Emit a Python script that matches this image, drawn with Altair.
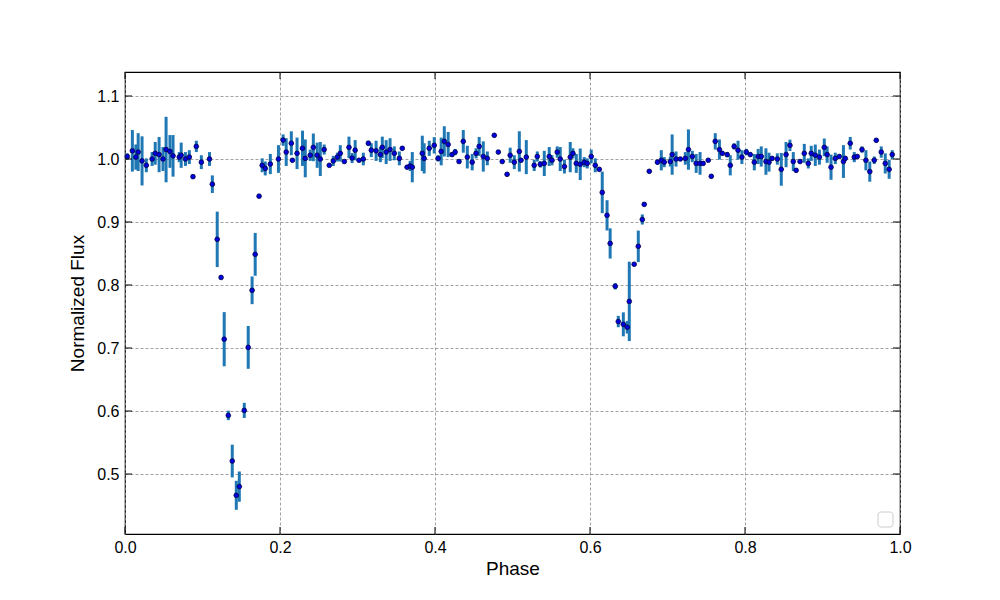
import altair as alt
import pandas as pd

phase = [0.003, 0.0095, 0.014, 0.017, 0.022, 0.0275, 0.035, 0.039, 0.044, 0.049,
         0.053, 0.058, 0.062, 0.070, 0.0725, 0.078, 0.083, 0.0877, 0.092, 0.0985,
         0.109, 0.1127, 0.119, 0.124, 0.128, 0.1333, 0.1384, 0.1436, 0.1475, 0.1539,
         0.159, 0.164, 0.168, 0.173, 0.177, 0.181, 0.1875, 0.198, 0.204, 0.208,
         0.2146, 0.216, 0.222, 0.229, 0.2326, 0.239, 0.243, 0.248, 0.252, 0.257,
         0.2636, 0.2688, 0.274, 0.2778, 0.283, 0.289, 0.293, 0.297, 0.302, 0.3075,
         0.314, 0.3178, 0.324, 0.3295, 0.332, 0.337, 0.342, 0.3475, 0.354, 0.3578,
         0.364, 0.368, 0.3707, 0.3836, 0.386, 0.3926, 0.399, 0.404, 0.408, 0.412,
         0.417, 0.422, 0.426, 0.431, 0.4365, 0.4417, 0.448, 0.453, 0.457, 0.4623,
         0.4675, 0.4765, 0.4817, 0.4868, 0.493, 0.497, 0.5023, 0.5088, 0.511, 0.5178,
         0.528, 0.532, 0.5359, 0.541, 0.5474, 0.551, 0.5577, 0.5616, 0.567, 0.5745,
         0.578, 0.5823, 0.5874, 0.5926, 0.5964, 0.6016, 0.6068, 0.612, 0.6158, 0.622,
         0.626, 0.6326, 0.6365, 0.643, 0.648, 0.6507, 0.657, 0.6623, 0.6675, 0.670,
         0.6765, 0.687, 0.692, 0.6958, 0.7036, 0.706, 0.711, 0.7165, 0.723, 0.727,
         0.732, 0.737, 0.742, 0.746, 0.7526, 0.7565, 0.7616, 0.767, 0.7707, 0.777,
         0.781, 0.786, 0.791, 0.796, 0.8017, 0.8068, 0.812, 0.817, 0.821, 0.827,
         0.831, 0.835, 0.8417, 0.8468, 0.853, 0.858, 0.8623, 0.866, 0.871, 0.8765,
         0.8817, 0.8855, 0.8907, 0.896, 0.9023, 0.906, 0.911, 0.9165, 0.9217, 0.927,
         0.9294, 0.9358, 0.941, 0.9449, 0.951, 0.956, 0.961, 0.9668, 0.9694, 0.9758,
         0.981, 0.986, 0.990]

flux = [1.004, 1.013, 1.003, 1.011, 0.997, 0.990, 1.000, 1.009, 1.007, 1.000,
        1.015, 1.012, 1.005, 1.003, 1.006, 1.000, 1.003, 0.972, 1.020, 0.995,
        1.000, 0.960, 0.8725, 0.812, 0.714, 0.593, 0.5206, 0.4662, 0.480, 0.601,
        0.701, 0.7916, 0.8487, 0.941, 0.990, 0.985, 0.992, 1.000, 1.030, 1.011,
        1.025, 0.998, 1.009, 1.017, 1.001, 1.006, 1.0185, 1.006, 1.000, 1.015,
        0.990, 0.997, 1.003, 1.009, 0.996, 1.0185, 1.0016, 1.014, 0.998, 1.000,
        1.025, 1.014, 1.013, 1.007, 1.0185, 1.011, 1.015, 1.009, 1.001, 1.017,
        0.987, 0.989, 0.987, 1.009, 1.001, 1.017, 1.0217, 1.001, 1.012, 1.028,
        1.023, 1.007, 1.011, 0.996, 1.028, 1.003, 0.995, 1.009, 1.020, 1.004,
        1.001, 1.0376, 1.011, 0.996, 0.9757, 1.006, 0.995, 1.012, 0.998, 1.003,
        0.990, 1.004, 0.9916, 0.993, 1.004, 0.998, 1.011, 1.000, 0.988, 1.003,
        1.009, 0.993, 0.9916, 0.995, 0.993, 1.004, 0.990, 0.9836, 0.947, 0.9106,
        0.866, 0.798, 0.742, 0.7376, 0.733, 0.774, 0.833, 0.8614, 0.904, 0.928,
        0.9805, 0.995, 0.998, 0.995, 0.996, 1.007, 1.000, 1.000, 1.001, 1.015,
        1.004, 0.993, 0.993, 0.993, 0.998, 0.9725, 1.028, 1.015, 1.009, 1.007,
        0.990, 1.020, 1.014, 1.003, 1.011, 1.007, 0.995, 1.004, 1.004, 0.996,
        0.995, 1.001, 1.000, 0.9836, 1.007, 1.0217, 0.996, 0.982, 0.996, 1.009,
        0.993, 1.009, 1.006, 1.003, 1.0185, 1.007, 0.987, 1.001, 1.004, 0.996,
        1.001, 1.025, 1.003, 1.004, 1.015, 0.998, 0.980, 0.998, 1.0297, 1.011,
        0.993, 0.9836, 1.007]

flux_err = [0.005, 0.033, 0.020, 0.030, 0.039, 0.011, 0.011, 0.018, 0.028, 0.019,
            0.052, 0.026, 0.033, 0.008, 0.020, 0.011, 0.011, 0.003, 0.009, 0.011,
            0.011, 0.014, 0.044, 0.003, 0.043, 0.0075, 0.026, 0.023, 0.024, 0.012,
            0.034, 0.022, 0.034, 0.003, 0.011, 0.011, 0.016, 0.022, 0.009, 0.022,
            0.019, 0.003, 0.025, 0.028, 0.030, 0.009, 0.022, 0.020, 0.027, 0.008,
            0.003, 0.008, 0.007, 0.013, 0.003, 0.017, 0.008, 0.016, 0.003, 0.010,
            0.004, 0.011, 0.016, 0.012, 0.017, 0.019, 0.018, 0.011, 0.011, 0.003,
            0.003, 0.008, 0.024, 0.028, 0.024, 0.012, 0.013, 0.005, 0.022, 0.024,
            0.020, 0.003, 0.005, 0.003, 0.018, 0.018, 0.013, 0.008, 0.015, 0.024,
            0.011, 0.003, 0.003, 0.003, 0.003, 0.012, 0.011, 0.032, 0.003, 0.027,
            0.009, 0.008, 0.005, 0.020, 0.015, 0.008, 0.009, 0.019, 0.011, 0.024,
            0.008, 0.015, 0.025, 0.008, 0.008, 0.011, 0.011, 0.003, 0.033, 0.024,
            0.024, 0.005, 0.009, 0.019, 0.010, 0.063, 0.003, 0.025, 0.008, 0.003,
            0.003, 0.004, 0.016, 0.008, 0.008, 0.032, 0.012, 0.003, 0.010, 0.032,
            0.009, 0.015, 0.018, 0.003, 0.003, 0.003, 0.013, 0.016, 0.003, 0.004,
            0.016, 0.005, 0.015, 0.011, 0.005, 0.003, 0.013, 0.012, 0.016, 0.021,
            0.015, 0.003, 0.009, 0.026, 0.020, 0.009, 0.015, 0.003, 0.003, 0.015,
            0.008, 0.012, 0.017, 0.012, 0.014, 0.013, 0.020, 0.009, 0.003, 0.026,
            0.003, 0.010, 0.008, 0.003, 0.005, 0.016, 0.016, 0.006, 0.003, 0.009,
            0.016, 0.015, 0.007]

x_ticks = [0.0, 0.2, 0.4, 0.6, 0.8, 1.0]
y_ticks = [0.5, 0.6, 0.7, 0.8, 0.9, 1.0, 1.1]

W, H = 775, 462
FONT = "Liberation Sans"

df = pd.DataFrame({"phase": phase, "flux": flux, "err": flux_err})
df["lo"] = df["flux"] - df["err"]
df["hi"] = df["flux"] + df["err"]

xscale = alt.Scale(domain=[0, 1], nice=False, zero=False)
yscale = alt.Scale(domain=[0.4048, 1.1381], nice=False, zero=False)

xaxis = alt.Axis(values=x_ticks, format=".1f", title="Phase", grid=True,
                 ticks=False, domain=False, labelPadding=5, titlePadding=4,
                 labelFlush=False)
yaxis = alt.Axis(values=y_ticks, format=".1f", title="Normalized Flux", grid=True,
                 ticks=False, domain=False, labelPadding=6, titlePadding=9,
                 labelFlush=False)


def X(field):
    return alt.X(field, type="quantitative", scale=xscale, axis=xaxis)


def Y(field):
    return alt.Y(field, type="quantitative", scale=yscale, axis=yaxis)


errbars = alt.Chart(df).mark_rule(color="#1f77b4", strokeWidth=3).encode(
    x=X("phase"), y=Y("lo"), y2="hi",
)

points = alt.Chart(df).mark_circle(
    size=22, color="#0000e0", opacity=1, stroke="#000044", strokeWidth=0.8
).encode(x=X("phase"), y=Y("flux"))

xt = pd.DataFrame({"v": x_ticks})
yt = pd.DataFrame({"v": y_ticks})
TL = 7
xtick_bottom = alt.Chart(xt).mark_rule(color="black", strokeWidth=1).encode(
    x=X("v"), y=alt.value(H), y2=alt.value(H - TL))
xtick_top = alt.Chart(xt).mark_rule(color="black", strokeWidth=1).encode(
    x=X("v"), y=alt.value(0), y2=alt.value(TL))
ytick_left = alt.Chart(yt).mark_rule(color="black", strokeWidth=1).encode(
    y=Y("v"), x=alt.value(0), x2=alt.value(TL))
ytick_right = alt.Chart(yt).mark_rule(color="black", strokeWidth=1).encode(
    y=Y("v"), x=alt.value(W - TL), x2=alt.value(W))

legend_box = alt.Chart(pd.DataFrame({"a": [0]})).mark_rect(
    fill="white", stroke="#cccccc", strokeWidth=1, cornerRadius=3
).encode(x=alt.value(753), x2=alt.value(768), y=alt.value(440), y2=alt.value(455))

chart = alt.layer(
    errbars, points, xtick_bottom, xtick_top, ytick_left, ytick_right, legend_box
).properties(
    width=W, height=H,
    padding={"left": 125, "top": 72, "right": 100, "bottom": 66},
    autosize=alt.AutoSizeParams(type="none"),
    background="white",
).configure_view(
    stroke="black", strokeWidth=1.2
).configure_axis(
    labelFont=FONT, titleFont=FONT, labelFontSize=16, titleFontSize=19,
    labelColor="black", titleColor="black", titleFontWeight="normal",
    gridColor="#8a8a8a", gridDash=[3, 2], gridWidth=0.8, gridOpacity=1,
)

chart.save("out.html", embed_options={"renderer": "svg", "actions": False})
